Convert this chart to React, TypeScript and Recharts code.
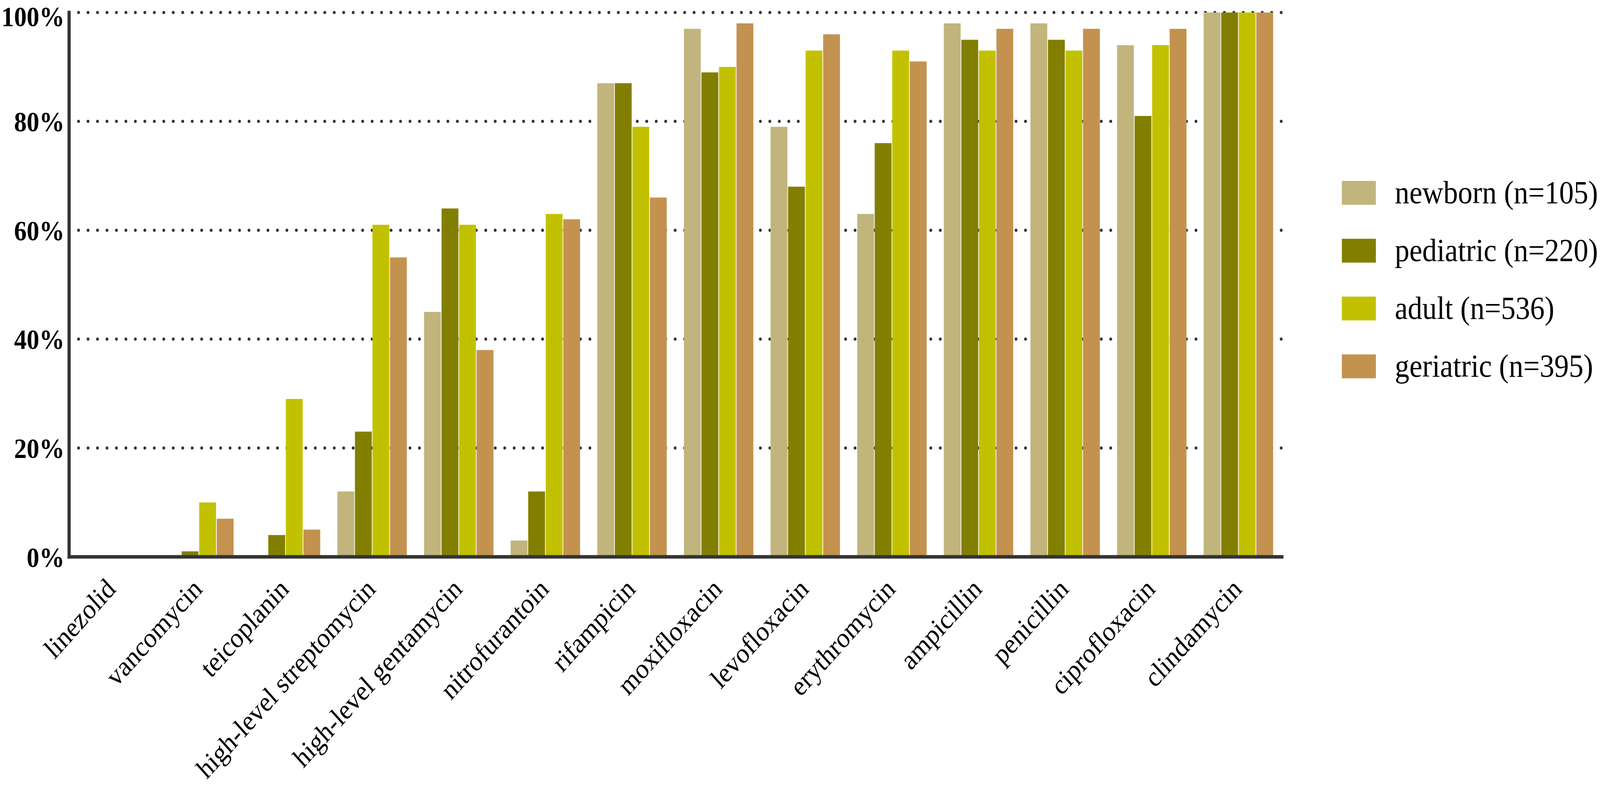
import React from "react";
import {
  BarChart,
  Bar,
  XAxis,
  YAxis,
  CartesianGrid,
  Legend,
} from "recharts";

const categories = [
  "linezolid",
  "vancomycin",
  "teicoplanin",
  "high-level streptomycin",
  "high-level gentamycin",
  "nitrofurantoin",
  "rifampicin",
  "moxifloxacin",
  "levofloxacin",
  "erythromycin",
  "ampicillin",
  "penicillin",
  "ciprofloxacin",
  "clindamycin",
];

const newborn = [0, 0, 0, 12, 45, 3, 87, 97, 79, 63, 98, 98, 94, 100];
const pediatric = [0, 1, 4, 23, 64, 12, 87, 89, 68, 76, 95, 95, 81, 100];
const adult = [0, 10, 29, 61, 61, 63, 79, 90, 93, 93, 93, 93, 94, 100];
const geriatric = [0, 7, 5, 55, 38, 62, 66, 98, 96, 91, 97, 97, 97, 100];

const yTicks = [0, 20, 40, 60, 80, 100];

const series = [
  { key: "newborn", label: "newborn (n=105)", color: "#C1B57D" },
  { key: "pediatric", label: "pediatric (n=220)", color: "#827F00" },
  { key: "adult", label: "adult (n=536)", color: "#C2C100" },
  { key: "geriatric", label: "geriatric (n=395)", color: "#C4924F" },
];

const data = categories.map((name, i) => ({
  name,
  newborn: newborn[i],
  pediatric: pediatric[i],
  adult: adult[i],
  geriatric: geriatric[i],
}));

const W = 4562;
const H = 2014;
const FONT = "'Liberation Serif', 'Times New Roman', serif";
const AXIS = "#333333";

const XTick = (props: any) => {
  const { x, y, payload } = props;
  const ax = x + 13;
  const ay = y + 86;
  return (
    <text
      x={ax}
      y={ay}
      transform={`rotate(-45, ${ax}, ${ay})`}
      textAnchor="end"
      fontFamily={FONT}
      fontSize={72}
      fill="#000"
    >
      {payload.value}
    </text>
  );
};

const renderLegend = () => (
  <div style={{ fontFamily: FONT }}>
    {series.map((s) => (
      <div
        key={s.key}
        style={{ display: "flex", alignItems: "center", height: 148 }}
      >
        <div
          style={{ width: 97, height: 61, background: s.color, flexShrink: 0 }}
        />
        <span
          style={{
            marginLeft: 54,
            fontSize: 83,
            color: "#000",
            whiteSpace: "nowrap",
            lineHeight: 1.1,
          }}
        >
          {s.label}
        </span>
      </div>
    ))}
  </div>
);

export default function App() {
  // stretch the 4562x2014 drawing so it fills the actual viewport
  const vw = typeof window !== "undefined" && window.innerWidth ? window.innerWidth : W;
  const vh = typeof window !== "undefined" && window.innerHeight ? window.innerHeight : H;
  const sx = vw / W;
  const sy = vh / H;

  return (
    <div
      style={{
        position: "fixed",
        left: 0,
        top: 0,
        width: vw,
        height: vh,
        overflow: "hidden",
        background: "#fff",
      }}
    >
      <div
        style={{
          width: W,
          height: H,
          transform: `scale(${sx}, ${sy})`,
          transformOrigin: "0 0",
        }}
      >
        <BarChart
          width={W}
          height={H}
          data={data}
          margin={{ top: 32, right: 907, bottom: 0, left: 0 }}
          barCategoryGap={24}
          barGap={2}
        >
          <CartesianGrid
            vertical={false}
            stroke={AXIS}
            strokeWidth={8}
            strokeDasharray="0 27"
            strokeLinecap="round"
          />
          <XAxis
            dataKey="name"
            interval={0}
            height={589}
            tickLine={false}
            tickSize={0}
            tickMargin={0}
            axisLine={{ stroke: AXIS, strokeWidth: 9, strokeLinecap: "square" }}
            tick={<XTick />}
          />
          <YAxis
            width={197}
            domain={[0, 100]}
            ticks={yTicks}
            tickFormatter={(v) => `${v}%`}
            tickLine={false}
            tickSize={0}
            tickMargin={13}
            axisLine={{ stroke: AXIS, strokeWidth: 9, strokeLinecap: "square" }}
            tick={{ fill: "#000", fontSize: 72, fontWeight: 700, fontFamily: FONT }}
          />
          <Legend
            layout="horizontal"
            align="center"
            verticalAlign="middle"
            content={renderLegend}
            wrapperStyle={{ left: 3826, top: 419, width: 736 }}
          />
          {series.map((s) => (
            <Bar
              key={s.key}
              dataKey={s.key}
              name={s.label}
              fill={s.color}
              isAnimationActive={false}
            />
          ))}
        </BarChart>
      </div>
    </div>
  );
}
